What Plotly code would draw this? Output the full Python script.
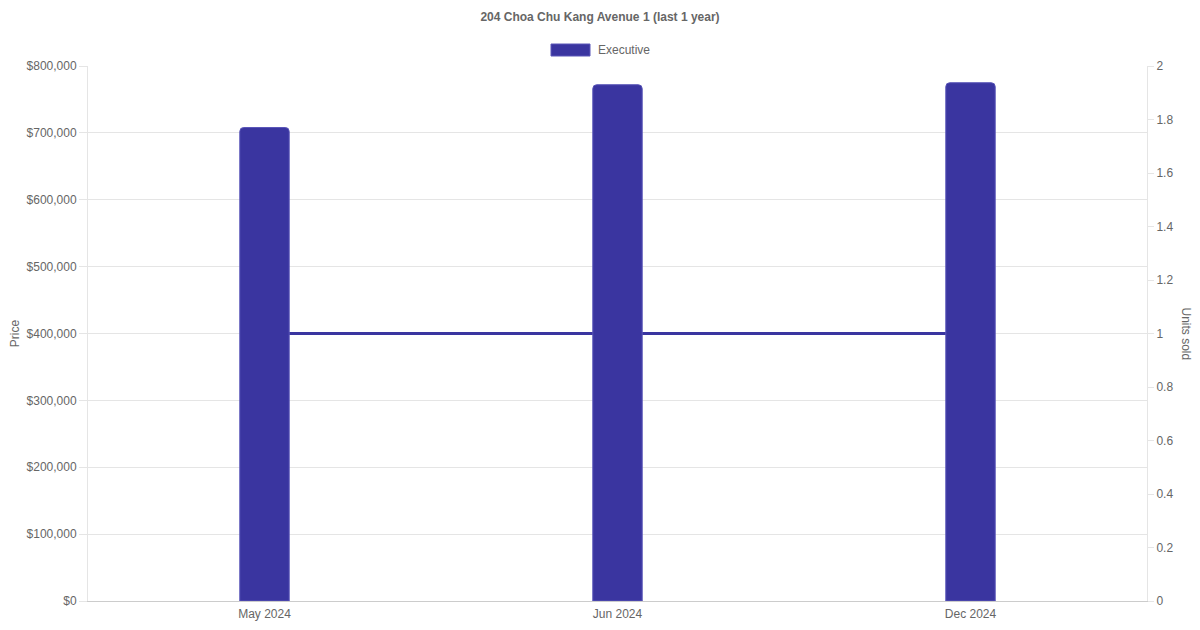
import plotly.graph_objects as go

months = ["May 2024", "Jun 2024", "Dec 2024"]
prices = [708000, 772000, 775000]
units = [1, 1, 1]
price_ticks = [0, 100000, 200000, 300000, 400000, 500000, 600000, 700000, 800000]
unit_ticks = [0, 0.2, 0.4, 0.6, 0.8, 1, 1.2, 1.4, 1.6, 1.8, 2]

BLUE = "#3a35a0"
GREY = "#666666"
GRID = "#e5e5e5"
FONT = "Liberation Sans, Arial, sans-serif"

# the page body has an 8px margin, so the figure is sized to fit inside it
W, H = 1184, 614

fig = go.Figure()
# line sits on the base (right) axis so the bars on the overlay are drawn over it
fig.add_trace(go.Scatter(x=months, y=units, mode="lines", yaxis="y",
                         line=dict(color=BLUE, width=3), showlegend=False))
fig.add_trace(go.Bar(x=months, y=prices, yaxis="y2", width=0.14,
                     marker=dict(color=BLUE, cornerradius=4,
                                 line=dict(color="#5a56b8", width=1)),
                     name="Executive", showlegend=False))

fig.update_layout(
    template="none",
    width=W, height=H,
    margin=dict(l=80, r=45, t=58, b=21, pad=0),
    paper_bgcolor="white", plot_bgcolor="white",
    font=dict(family=FONT, size=12, color=GREY),
    title=dict(text="<b>204 Choa Chu Kang Avenue 1 (last 1 year)</b>",
               x=0.5, xanchor="center", y=1 - 9 / H, yanchor="middle",
               font=dict(size=12, color=GREY)),
    xaxis=dict(type="category", showgrid=False, showline=True, linecolor="#cccccc",
               ticks="outside", ticklen=2, tickcolor="rgba(0,0,0,0)", automargin=False,
               tickfont=dict(size=12, color=GREY)),
    yaxis=dict(side="right", range=[0, 2], tickvals=unit_ticks,
               ticktext=[f"{v:g}" for v in unit_ticks], automargin=False,
               showgrid=False, zeroline=False, showline=True, linecolor=GRID,
               ticks="outside", ticklen=6, tickcolor=GRID,
               tickfont=dict(size=12, color=GREY)),
    yaxis2=dict(side="left", overlaying="y", range=[0, 800000], tickvals=price_ticks,
                ticktext=[f"${v:,}" for v in price_ticks], automargin=False,
                showgrid=True, gridcolor=GRID, zeroline=False,
                showline=True, linecolor=GRID,
                ticks="outside", ticklen=8, tickcolor=GRID,
                tickfont=dict(size=12, color=GREY),
                title=dict(text="Price", standoff=4, font=dict(size=12, color=GREY))),
    showlegend=False,
)

# Chart.js style legend swatch and label
fig.add_shape(type="rect", xref="paper", yref="paper",
              x0=(551 - 88) / 1059, x1=(590 - 88) / 1059,
              y0=(601 - 56) / 535, y1=(601 - 44) / 535,
              fillcolor=BLUE, line=dict(color="#5a56b8", width=1))
fig.add_annotation(text="Executive", xref="paper", yref="paper",
                   x=(596 - 88) / 1059, y=(601 - 50) / 535,
                   xanchor="left", yanchor="middle", showarrow=False,
                   font=dict(size=12, color=GREY))
fig.add_annotation(text="Units sold", xref="paper", yref="paper",
                   x=(1186 - 88) / 1059, y=0.5, textangle=90,
                   xanchor="center", yanchor="middle", showarrow=False,
                   font=dict(size=12, color=GREY))

fig.write_html("out.html")
